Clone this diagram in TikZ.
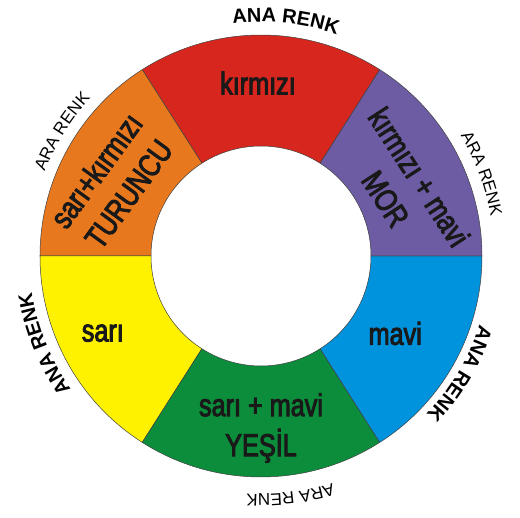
\documentclass[tikz,border=0pt]{standalone}
\usepackage{fontspec}
\setmainfont{Liberation Sans}[FakeStretch=0.8,FakeBold=3]
\newfontfamily\halkafont{Liberation Sans}
\usetikzlibrary{decorations.text}

\definecolor{kirmizi}{HTML}{D7261E}
\definecolor{turuncu}{HTML}{E8781E}
\definecolor{mor}{HTML}{6D5CA4}
\definecolor{sari}{HTML}{FFF200}
\definecolor{yesil}{HTML}{0B8D3B}
\definecolor{mavi}{HTML}{0093DD}

\tikzset{
    dilim/.style={draw=black!75,line width=0.5pt},
    etiket/.style={font=\fontsize{31.5}{40}\selectfont,align=center,text=black!90},
    anayazi/.style={decorate,decoration={text along path,text align=center,
        text={|\halkafont\bfseries\fontsize{20}{20}\selectfont|#1}}},
    arayazi/.style={decorate,decoration={text along path,text align=center,
        text={|\halkafont\fontsize{17}{17}\selectfont|#1}}},
}

\begin{document}
\begin{tikzpicture}[x=1pt,y=1pt]

    % パラメータの定義
    \pgfmathsetmacro{\Ro}{221}
    \pgfmathsetmacro{\Ri}{110}

    \useasboundingbox (-261,-262) rectangle (259,256);

    % 扇形を描画
    \draw[dilim,fill=kirmizi] (57.5:\Ri) -- (57.5:\Ro) arc[start angle=57.5,end angle=122.5,radius=\Ro pt]
        -- (122.5:\Ri) arc[start angle=122.5,end angle=57.5,radius=\Ri pt] -- cycle;
    \draw[dilim,fill=turuncu] (122.5:\Ri) -- (122.5:\Ro) arc[start angle=122.5,end angle=180,radius=\Ro pt]
        -- (180:\Ri) arc[start angle=180,end angle=122.5,radius=\Ri pt] -- cycle;
    \draw[dilim,fill=sari] (180:\Ri) -- (180:\Ro) arc[start angle=180,end angle=237.5,radius=\Ro pt]
        -- (237.5:\Ri) arc[start angle=237.5,end angle=180,radius=\Ri pt] -- cycle;
    \draw[dilim,fill=yesil] (237.5:\Ri) -- (237.5:\Ro) arc[start angle=237.5,end angle=302.5,radius=\Ro pt]
        -- (302.5:\Ri) arc[start angle=302.5,end angle=237.5,radius=\Ri pt] -- cycle;
    \draw[dilim,fill=mavi] (302.5:\Ri) -- (302.5:\Ro) arc[start angle=302.5,end angle=360,radius=\Ro pt]
        -- (0:\Ri) arc[start angle=360,end angle=302.5,radius=\Ri pt] -- cycle;
    \draw[dilim,fill=mor] (0:\Ri) -- (0:\Ro) arc[start angle=0,end angle=57.5,radius=\Ro pt]
        -- (57.5:\Ri) arc[start angle=57.5,end angle=0,radius=\Ri pt] -- cycle;

    % 色の名前
    \node[etiket] (kirmizi) at (91:173) {kırmızı};
    \node[etiket,rotate=54] (turuncu) at (153.6:166) {sarı+kırmızı\\TURUNCU};
    \node[etiket] (sari) at (206:176) {sarı};
    \node[etiket] (yesil) at (270:172) {sarı + mavi\\YEŞİL};
    \node[etiket] (mavi) at (-30:155) {mavi};
    \node[etiket,rotate=-57] (mor) at (25.7:157) {kırmızı + mavi\\MOR};

    % 外側の文字
    \path[anayazi=ANA RENK] (124:234) arc[start angle=124,end angle=44,radius=234pt];
    \path[anayazi=ANA RENK] (242:232) arc[start angle=242,end angle=162,radius=232pt];
    \path[anayazi=ANA RENK] (9.4:229) arc[start angle=9.4,end angle=-70.6,radius=229pt];
    \path[arayazi=ARA RENK] (188:232) arc[start angle=188,end angle=108,radius=232pt];
    \path[arayazi=ARA RENK] (60.4:233) arc[start angle=60.4,end angle=-19.6,radius=233pt];
    \path[arayazi=ARA RENK] (-43:238) arc[start angle=-43,end angle=-123,radius=238pt];

\end{tikzpicture}
\end{document}
